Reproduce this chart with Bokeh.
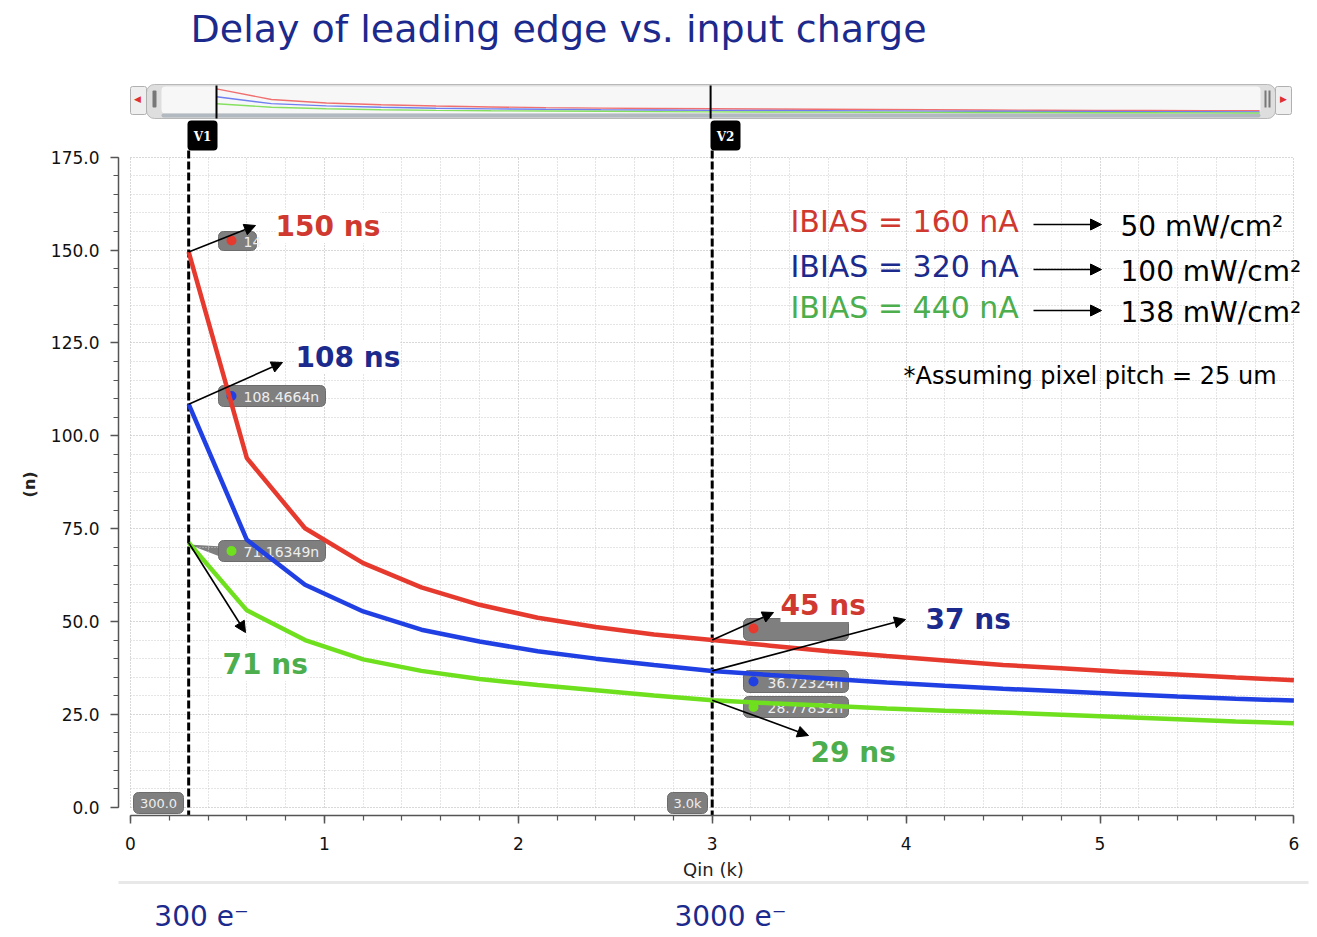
import math
from bokeh.plotting import figure
from bokeh.models import (Range1d, FixedTicker, Label, Arrow, NormalHead, BoxAnnotation,
                          LinearAxis)
from bokeh.embed import file_html
from bokeh.resources import INLINE

# ---------------- data ----------------
qin_k = [0.3, 0.6, 0.9, 1.2, 1.5, 1.8, 2.1, 2.4, 2.7, 3.0,
         3.3, 3.6, 3.9, 4.2, 4.5, 4.8, 5.1, 5.4, 5.7, 6.0]
delay_160nA = [149.5, 94.0, 75.1, 65.7, 59.2, 54.5, 51.0, 48.5, 46.5, 45.0,
               43.5, 42.0, 40.7, 39.5, 38.3, 37.4, 36.5, 35.7, 34.9, 34.2]
delay_320nA = [108.5, 72.0, 59.9, 52.7, 47.8, 44.6, 42.0, 40.0, 38.3, 36.7,
               35.6, 34.6, 33.6, 32.7, 31.9, 31.2, 30.5, 29.8, 29.2, 28.7]
delay_440nA = [71.2, 53.0, 45.0, 39.8, 36.7, 34.5, 32.9, 31.5, 30.1, 28.8,
               28.0, 27.3, 26.6, 26.0, 25.5, 24.9, 24.3, 23.7, 23.1, 22.6]
cursor_qin = [0.3, 3.0]
cursor_names = ["V1", "V2"]
cursor_axis_tags = ["300.0", "3.0k"]
x_ticks = [0, 1, 2, 3, 4, 5, 6]
x_tick_labels = ["0", "1", "2", "3", "4", "5", "6"]
y_ticks = [0, 25, 50, 75, 100, 125, 150, 175]
y_tick_labels = ["0.0", "25.0", "50.0", "75.0", "100.0", "125.0", "150.0", "175.0"]
series_labels = ["IBIAS = 160 nA", "IBIAS = 320 nA", "IBIAS = 440 nA"]
power_labels = ["50 mW/cm\u00b2", "100 mW/cm\u00b2", "138 mW/cm\u00b2"]
v1_readouts = ["14", "108.4664n", "71.16349n"]
v2_readouts = ["", "36.72324n", "28.77832n"]
v1_callouts = ["150 ns", "108 ns", "71 ns"]
v2_callouts = ["45 ns", "37 ns", "29 ns"]
charge_labels = ["300 e\u207b", "3000 e\u207b"]
title_text = "Delay of leading edge vs. input charge"
note_text = "*Assuming pixel pitch = 25 um"
x_title = "Qin (k)"
y_title = "(n)"

series = [delay_160nA, delay_320nA, delay_440nA]

# ---------------- style ----------------
FONT = "DejaVu Sans"
LINE_COLORS = ["#e63a2e", "#2140e4", "#6ee01e"]
MINI_COLORS = ["#f07070", "#6f7ff0", "#86e060"]
TEXT_COLORS = ["#d0392f", "#1b2a8c", "#4cae4c"]
NAVY = "#1b2a8c"

# picture-pixel helpers
PX0, PXK = 130.0, 193.9      # x = 0 at 130 px, 193.9 px per k
PY0, PYK = 806.7, 3.714      # y = 0 at 806.7 px, 3.714 px per n
OX0, OXK = 161.1, 183.0      # overview strip scale
OY0, OYK = 116.8, 0.19

def dx(px): return (px - PX0) / PXK
def dy(py): return (PY0 - py) / PYK
def ox(px): return (px - OX0) / OXK
def oy(py): return (OY0 - py) / OYK

W, H = 1316, 936
FL, FR, FT, FB = 118, 1308, 8, 815  # frame edges in picture px

p = figure(width=W, height=H, output_backend="svg", toolbar_location=None, title=None,
           x_range=Range1d(dx(FL), dx(FR)), y_range=Range1d(dy(FB), dy(FT)),
           min_border_left=FL, min_border_right=W - FR, min_border_top=FT,
           min_border_bottom=H - FB)
p.outline_line_color = None
p.background_fill_color = "white"
p.border_fill_color = "white"
p.extra_x_ranges = {"ov": Range1d(ox(FL), ox(FR)), "px": Range1d(FL, FR)}
p.extra_y_ranges = {"ov": Range1d(oy(FB), oy(FT)), "px": Range1d(FB, FT)}

# ---------------- axes & grid ----------------
xa = p.xaxis[0]
ya = p.yaxis[0]
xa.ticker = FixedTicker(ticks=x_ticks, minor_ticks=[round(i * 0.2, 1) for i in range(31)])
ya.ticker = FixedTicker(ticks=y_ticks, minor_ticks=[i * 5 for i in range(36)])
xa.major_label_overrides = dict(zip(x_ticks, x_tick_labels))
ya.major_label_overrides = dict(zip(y_ticks, y_tick_labels))
xa.bounds = (x_ticks[0], x_ticks[-1])
ya.bounds = (y_ticks[0], y_ticks[-1])
for ax in (xa, ya):
    ax.axis_line_color = "#555555"
    ax.axis_line_width = 1.5
    ax.major_tick_line_color = "#555555"
    ax.major_tick_line_width = 1.5
    ax.major_tick_out = 8
    ax.major_tick_in = 0
    ax.minor_tick_line_color = "#555555"
    ax.minor_tick_line_width = 1.2
    ax.minor_tick_out = 5
    ax.minor_tick_in = 0
    ax.major_label_text_font = FONT
    ax.major_label_text_font_size = "17px"
    ax.major_label_text_font_style = "normal"
    ax.major_label_text_color = "#111111"
    ax.axis_label_text_font = FONT
    ax.axis_label_text_color = "#222222"
xa.major_label_standoff = 13
ya.major_label_standoff = 11
xa.axis_label = x_title
xa.axis_label_text_font_size = "18px"
xa.axis_label_text_font_style = "normal"
xa.axis_label_standoff = 6
# the axis title is centred on the whole frame; trailing no-break spaces move "(n)"
# down to the middle of the 0..175 scale
ya.axis_label = y_title + "\u00a0" * 26
ya.axis_label_text_font_size = "16px"
ya.axis_label_text_font_style = "bold"
ya.axis_label_standoff = 9

# charge annotation below the axis (second, label-only axis)
charge_axis = LinearAxis(ticker=FixedTicker(ticks=[dx(201), dx(730)]))
charge_axis.major_label_overrides = dict(zip(charge_axis.ticker.ticks, charge_labels))
charge_axis.axis_line_color = "#e8e8e8"
charge_axis.axis_line_width = 3
charge_axis.major_tick_line_color = None
charge_axis.minor_tick_line_color = None
charge_axis.major_label_text_font = FONT
charge_axis.major_label_text_font_size = "28px"
charge_axis.major_label_text_color = NAVY
charge_axis.major_label_standoff = 11
p.add_layout(charge_axis, "below")

for g in (p.xgrid[0], p.ygrid[0]):
    g.grid_line_color = "#cacaca"
    g.grid_line_dash = "1 2"
    g.grid_line_width = 1
    g.minor_grid_line_color = "#cacaca"
    g.minor_grid_line_dash = "1 2"
    g.minor_grid_line_width = 1
if "cross_bounds" in p.xgrid[0].properties():
    p.xgrid[0].cross_bounds = (y_ticks[0], y_ticks[-1])
    p.ygrid[0].cross_bounds = (x_ticks[0], x_ticks[-1])

# ---------------- helpers ----------------
def label(x, y, text, size, color="black", style="normal", align="left",
          baseline="middle", rng=None, font=FONT, **kw):
    opts = dict(x=x, y=y, text=text, text_font=font, text_font_size=f"{size}px",
                text_color=color, text_font_style=style, text_align=align,
                text_baseline=baseline)
    if rng == "px":
        opts.update(x_range_name="px", y_range_name="px")
    opts.update(kw)
    lab = Label(**opts)
    p.add_layout(lab)
    return lab

def box(l, r, t, b, fill, line=None, radius=0, level="underlay", lw=1):
    ba = BoxAnnotation(left=l, right=r, top=t, bottom=b, x_range_name="px", y_range_name="px",
                       fill_color=fill, fill_alpha=1.0, line_color=line, line_alpha=1.0,
                       line_width=lw, line_dash="solid", border_radius=radius, level=level)
    p.add_layout(ba)
    return ba

def arrow(x0, y0, x1, y1, rng=None):
    kw = {}
    if rng == "px":
        kw = dict(x_range_name="px", y_range_name="px")
    p.add_layout(Arrow(x_start=x0, y_start=y0, x_end=x1, y_end=y1, line_color="black",
                       line_width=1.6,
                       end=NormalHead(size=11, fill_color="black", line_color="black"), **kw))

# ---------------- title ----------------
label(190, 28, title_text, 38, NAVY, rng="px")

# ---------------- overview strip ----------------
box(146, 1275, 84, 118, "#dedede", "#b8b8b8", 8)
box(161, 1260, 86, 113, "#f7f7f7", None, 4)
box(161, 1260, 113, 117, "#b3b9c0", None, 2)
box(130, 146, 86, 114, "#efefef", "#b0b0b0", 2)
box(1275, 1291, 86, 114, "#efefef", "#b0b0b0", 2)
box(152, 156, 90, 107, "#777777", None, 1)
box(1264, 1266, 90, 107, "#777777", None, 0)
box(1268, 1270, 90, 107, "#777777", None, 0)
label(137, 98, "\u25c0", 9, "#e03030", align="center", rng="px")
label(1283, 98, "\u25b6", 9, "#e03030", align="center", rng="px")
for ser, col in zip(series, MINI_COLORS):
    p.line(qin_k, ser, x_range_name="ov", y_range_name="ov", line_color=col, line_width=1.4)
p.segment(x0=cursor_qin, y0=[oy(118)] * 2, x1=cursor_qin, y1=[oy(85)] * 2,
          x_range_name="ov", y_range_name="ov", line_color="black", line_width=2)

# ---------------- cursor tags and dashed lines ----------------
tag_px = [187, 710]
for name, tx in zip(cursor_names, tag_px):
    box(tx, tx + 30, 120, 150, "black", None, 4, level="annotation")
    label(tx + 15, 136, name, 12, "white", "bold", align="center", rng="px",
          font="DejaVu Serif")
p.segment(x0=cursor_qin, y0=[dy(818)] * 2, x1=cursor_qin, y1=[dy(150)] * 2,
          line_color="black", line_width=3, line_dash="8 3")

# value readouts (gray tags)
TAG_FILL = "#7f7f7f"
v1_rows = [(231, 250), (385, 406), (540, 561)]
v2_rows = [(618, 640), (670, 692), (696, 717)]
p.patch([188, 222, 222], [544, 546, 557], x_range_name="px", y_range_name="px",
        fill_color=TAG_FILL, line_color=None, level="underlay")
for i, (t, b) in enumerate(v1_rows):
    right = 256 if i == 0 else 325
    box(218, right, t, b, TAG_FILL, "#6c6c6c", 5)
    label(243, (t + b) / 2 + 1, v1_readouts[i], 14, "#eeeeee", rng="px", level="underlay")
for i, (t, b) in enumerate(v2_rows):
    box(743, 848, t, b, TAG_FILL, "#6c6c6c", 5)
    label(767, (t + b) / 2 + 1, v2_readouts[i], 14, "#eeeeee", rng="px", level="underlay")
p.scatter([231, 231, 231], [240, 395.5, 550.5], x_range_name="px", y_range_name="px",
          size=10, color=LINE_COLORS, line_color=None)
p.scatter([753, 753, 753], [628, 681, 706.5], x_range_name="px", y_range_name="px",
          size=10, color=LINE_COLORS, line_color=None)
# x-position readouts at the bottom
box(133, 183, 792, 813, TAG_FILL, "#6c6c6c", 5)
box(667, 707, 792, 813, TAG_FILL, "#6c6c6c", 5)
label(158, 803, cursor_axis_tags[0], 13, "#eeeeee", align="center", rng="px", level="underlay")
label(687, 803, cursor_axis_tags[1], 13, "#eeeeee", align="center", rng="px", level="underlay")

# ---------------- curves ----------------
for ser, col in zip(series[::-1], LINE_COLORS[::-1]):
    p.line(qin_k, ser, line_color=col, line_width=4.5)

# ---------------- callouts ----------------
i1 = qin_k.index(cursor_qin[0])
i2 = qin_k.index(cursor_qin[1])
v1_arrow_end = [(255, 225), (282, 362), (245, 632)]
v1_text_pos = [(275, 226), (295, 357), (222, 664)]
v2_arrow_end = [(773, 612), (905, 619), (808, 735)]
v2_text_pos = [(780, 605), (925, 619), (810, 752)]
for k in range(3):
    arrow(cursor_qin[0], series[k][i1], dx(v1_arrow_end[k][0]), dy(v1_arrow_end[k][1]))
    arrow(cursor_qin[1], series[k][i2], dx(v2_arrow_end[k][0]), dy(v2_arrow_end[k][1]))
for k in range(3):
    for txt, pos in ((v1_callouts[k], v1_text_pos[k]), (v2_callouts[k], v2_text_pos[k])):
        label(dx(pos[0]), dy(pos[1]), txt, 28, TEXT_COLORS[k], "bold",
              background_fill_color="white", background_fill_alpha=1.0)

# ---------------- legend block ----------------
row_y = [221, 266, 307]
for k in range(3):
    label(790, row_y[k], series_labels[k], 30, TEXT_COLORS[k], rng="px")
    arrow(1033, row_y[k] + 3, 1101, row_y[k] + 3, rng="px")
    label(1120, row_y[k] + 5, power_labels[k], 28, "black", rng="px")
label(903, 375, note_text, 24, "black", rng="px")

open("out.html", "w").write(file_html(p, INLINE))
